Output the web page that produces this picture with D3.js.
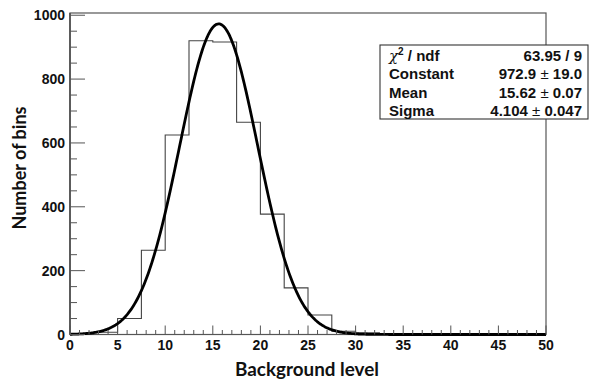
<!DOCTYPE html>
<html><head><meta charset="utf-8">
<script src="https://cdn.jsdelivr.net/npm/d3@7"></script>
<style>body{margin:0;background:#fff}svg{display:block}</style>
</head><body>
<script>
// Histogram: bin lower edges (width 2.5) and counts
const binEdges = [0,2.5,5,7.5,10,12.5,15,17.5,20,22.5,25,27.5,30,32.5,35,37.5,40,42.5,45,47.5,50];
const binCounts = [1,7,50,264,625,920,916,665,377,146,61,10,5,1,0,0,0,0,0,0];
// Gaussian fit parameters (from stats box)
const fitConstant = 972.9, fitMean = 15.62, fitSigma = 4.104;
const statLabels = ["χ2 / ndf","Constant","Mean","Sigma"];
const statValues = [["63.95 / 9"],["972.9","19.0"],["15.62","0.07"],["4.104","0.047"]];
const xTicks = [0,5,10,15,20,25,30,35,40,45,50];
const yTicks = [0,200,400,600,800,1000];

const W=589,H=381;
const L=70,R=546,T=13,B=334.5;
const svg=d3.select("body").append("svg").attr("width",W).attr("height",H);
const x=d3.scaleLinear().domain([0,50]).range([L,R]);
const y=d3.scaleLinear().domain([0,1007]).range([B,T]);
const gray="#555";
const numFont="'Liberation Sans', Arial, sans-serif";

// frame
svg.append("rect").attr("x",L).attr("y",T).attr("width",R-L).attr("height",B-T)
  .attr("fill","none").attr("stroke",gray).attr("stroke-width",1.2);

// histogram step outline
const pts=[[binEdges[0],0]];
binCounts.forEach((c,i)=>{pts.push([binEdges[i],c]);pts.push([binEdges[i+1],c]);});
pts.push([binEdges[binEdges.length-1],0]);
svg.append("path").attr("d",d3.line().x(d=>x(d[0])).y(d=>y(d[1]))(pts))
  .attr("fill","none").attr("stroke","#444").attr("stroke-width",1.1);

// fit curve
const fitX=d3.range(0,50.001,0.1);
const gauss=v=>fitConstant*Math.exp(-0.5*Math.pow((v-fitMean)/fitSigma,2));
svg.append("path").attr("d",d3.line().x(d=>x(d)).y(d=>y(gauss(d))).curve(d3.curveLinear)(fitX))
  .attr("fill","none").attr("stroke","#000").attr("stroke-width",2.8).attr("stroke-linejoin","round");

// x axis ticks
const xAxis=svg.append("g");
d3.range(0,51,1).forEach(v=>{
  const major=v%5===0;
  xAxis.append("line").attr("x1",x(v)).attr("x2",x(v)).attr("y1",B).attr("y2",B-(major?9:4.5))
    .attr("stroke",gray).attr("stroke-width",1);
});
xAxis.selectAll("text.xt").data(xTicks).join("text").attr("class","xt")
  .attr("x",d=>x(d)).attr("y",350).attr("text-anchor","middle")
  .attr("font-family",numFont).attr("font-weight","bold").attr("font-size",14).attr("fill","#111")
  .text(d=>d);

// y axis
const yAxis=svg.append("g");
yAxis.append("line").attr("x1",L).attr("x2",L).attr("y1",T).attr("y2",B).attr("stroke",gray).attr("stroke-width",1.8);
d3.range(0,1001,50).forEach(v=>{
  const major=v%200===0;
  yAxis.append("line").attr("x1",L).attr("x2",L+(major?15:7)).attr("y1",y(v)).attr("y2",y(v))
    .attr("stroke",gray).attr("stroke-width",1);
});
yAxis.selectAll("text.yt").data(yTicks).join("text").attr("class","yt")
  .attr("x",65).attr("y",d=>y(d)+5).attr("text-anchor","end")
  .attr("font-family",numFont).attr("font-weight","bold").attr("font-size",14).attr("fill","#111")
  .text(d=>d);

// axis titles
svg.append("text").attr("x",307).attr("y",376).attr("text-anchor","middle")
  .attr("font-family","Lato, 'Open Sans', sans-serif").attr("font-weight","bold").attr("font-size",18)
  .attr("textLength",144).attr("lengthAdjust","spacingAndGlyphs").attr("fill","#111")
  .text("Background level");
svg.append("text").attr("transform","translate(25.5,168) rotate(-90)").attr("text-anchor","middle")
  .attr("font-family","Lato, 'Open Sans', sans-serif").attr("font-weight","bold").attr("font-size",18)
  .attr("textLength",123).attr("lengthAdjust","spacingAndGlyphs").attr("fill","#111")
  .text("Number of bins");

// stats box
const bx=380,by=45,bw=208,bh=74;
svg.append("rect").attr("x",bx).attr("y",by).attr("width",bw).attr("height",bh)
  .attr("fill","#fff").attr("stroke","#333").attr("stroke-width",1.1);
statLabels.forEach((lab,i)=>{
  const ty=60.5+18.5*i;
  const t=svg.append("text").attr("x",389).attr("y",ty).attr("font-family",numFont)
    .attr("font-weight","bold").attr("font-size",15).attr("fill","#111");
  if(i===0){
    t.append("tspan").attr("font-weight","normal").attr("font-family","'DejaVu Serif', serif").attr("font-style","italic").text("χ");
    t.append("tspan").attr("font-size",10).attr("dy",-6).text("2");
    t.append("tspan").attr("dy",6).text(" / ndf");
  } else t.text(lab);
  const v=svg.append("text").attr("x",582).attr("y",ty).attr("text-anchor","end").attr("font-family",numFont)
    .attr("font-weight","bold").attr("font-size",15).attr("fill","#111");
  const vals=statValues[i];
  if(vals.length===1) v.text(vals[0]);
  else{
    v.append("tspan").text(vals[0]+" ");
    v.append("tspan").attr("font-weight","normal").text("±");
    v.append("tspan").text(" "+vals[1]);
  }
});
</script>
</body></html>
